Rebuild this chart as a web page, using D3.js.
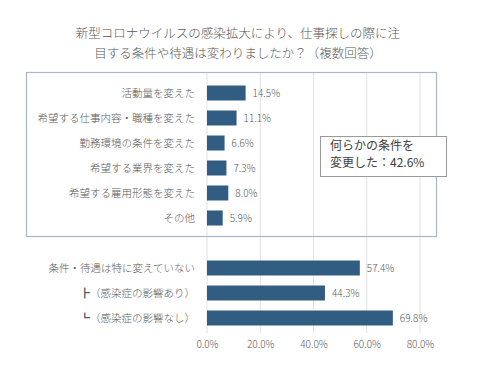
<!DOCTYPE html>
<html>
<head>
<meta charset="utf-8">
<script src="https://cdn.jsdelivr.net/npm/d3@7"></script>
<style>
  body { margin: 0; background: #fff; }
  text { font-family: "Noto Sans CJK JP", sans-serif; font-weight: 300; }
</style>
</head>
<body>
<div id="viz"></div>
<script>
const width = 484;
const height = 375;
const barColor = '#325d82';
const textColor = '#595959';

// Data
const titleLines = [
  '新型コロナウイルスの感染拡大により、仕事探しの際に注',
  '目する条件や待遇は変わりましたか？（複数回答）'
];
const categories = [
  '活動量を変えた',
  '希望する仕事内容・職種を変えた',
  '勤務環境の条件を変えた',
  '希望する業界を変えた',
  '希望する雇用形態を変えた',
  'その他',
  '',
  '条件・待遇は特に変えていない',
  '┣（感染症の影響あり）',
  '┗（感染症の影響なし）'
];
const values = [14.5, 11.1, 6.6, 7.3, 8.0, 5.9, null, 57.4, 44.3, 69.8];
const ticks = [0, 20, 40, 60, 80];
const noteLines = ['何らかの条件を', '変更した：42.6%'];

const rows = categories.map((c, i) => ({key: i, label: c, value: values[i]}));

const svg = d3.select('#viz')
  .append('svg')
    .attr('width', width)
    .attr('height', height);

// Scales
const xScale = d3.scaleLinear()
  .domain([0, 80])
  .range([207, 420]);
const yScale = d3.scaleBand()
  .domain(rows.map(d => d.key))
  .range([80.5, 330.5])
  .paddingInner(0.4)
  .paddingOuter(0.2);

// Title
svg.append('g')
  .selectAll('text')
  .data(titleLines)
  .join('text')
    .attr('x', 238)
    .attr('y', (d, i) => 38 + i * 20)
    .attr('text-anchor', 'middle')
    .attr('fill', textColor)
    .style('font-size', '12.5px')
    .text(d => d);

// Gridlines
svg.append('g')
  .selectAll('line')
  .data(ticks)
  .join('line')
    .attr('x1', d => xScale(d))
    .attr('x2', d => xScale(d))
    .attr('y1', 72)
    .attr('y2', 333)
    .attr('stroke', '#e2e2e2')
    .attr('stroke-width', 1);

// Frame around the first group
svg.append('rect')
  .attr('x', 26.5)
  .attr('y', 72.5)
  .attr('width', 410)
  .attr('height', 164)
  .attr('fill', 'none')
  .attr('stroke', '#a9b6c4')
  .attr('stroke-width', 1.2);

// x-axis
const xAxis = d3.axisBottom(xScale)
  .tickValues(ticks)
  .tickSize(0)
  .tickFormat(d => d.toFixed(1) + '%');
const xAxisGroup = svg.append('g')
  .attr('transform', 'translate(0, 338)')
  .call(xAxis);
xAxisGroup.select('.domain').remove();
xAxisGroup.selectAll('text')
  .attr('fill', textColor)
  .style('font-size', '10px')
  .style('font-family', '"Noto Sans CJK JP", sans-serif');

// Category labels
svg.append('g')
  .selectAll('text')
  .data(rows)
  .join('text')
    .attr('x', 195)
    .attr('y', d => yScale(d.key) + yScale.bandwidth() / 2)
    .attr('dy', '0.35em')
    .attr('text-anchor', 'end')
    .attr('fill', textColor)
    .style('font-size', '10.5px')
    .text(d => d.label);

// Bars
const barRows = rows.filter(d => d.value !== null);
svg.append('g')
  .attr('fill', barColor)
  .selectAll('rect')
  .data(barRows)
  .join('rect')
    .attr('x', xScale(0))
    .attr('y', d => yScale(d.key))
    .attr('width', d => xScale(d.value) - xScale(0))
    .attr('height', yScale.bandwidth());

// Value labels
svg.append('g')
  .selectAll('text')
  .data(barRows)
  .join('text')
    .attr('x', d => xScale(d.value) + 7)
    .attr('y', d => yScale(d.key) + yScale.bandwidth() / 2)
    .attr('dy', '0.35em')
    .attr('fill', textColor)
    .style('font-size', '10px')
    .text(d => d.value.toFixed(1) + '%');

// Annotation box
const note = svg.append('g');
note.append('rect')
  .attr('x', 320.5)
  .attr('y', 136.5)
  .attr('width', 126)
  .attr('height', 40)
  .attr('fill', '#fff')
  .attr('stroke', '#9a9a9a')
  .attr('stroke-width', 1);
note.selectAll('text')
  .data(noteLines)
  .join('text')
    .attr('x', 330)
    .attr('y', (d, i) => 150 + i * 17)
    .attr('fill', '#404040')
    .style('font-size', '12px')
    .style('font-weight', 400)
    .text(d => d);
</script>
</body>
</html>
